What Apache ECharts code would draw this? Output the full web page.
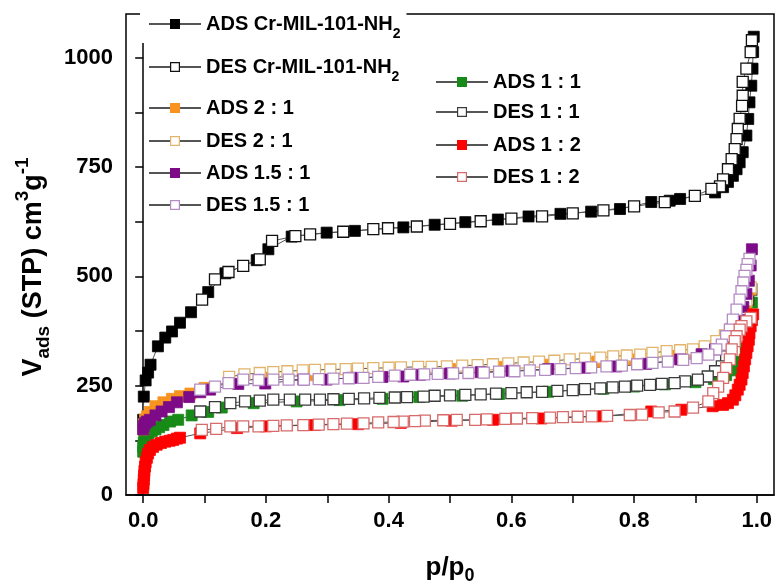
<!DOCTYPE html>
<html>
<head>
<meta charset="utf-8">
<script src="https://cdn.jsdelivr.net/npm/echarts@6/dist/echarts.min.js"></script>
<style>html,body{margin:0;padding:0;background:#fff}#c{width:777px;height:583px}</style>
</head>
<body>
<div id="c"></div>
<script>
// ---- data (p/p0, V ads) ----
const xTickLabels = [0, 0.2, 0.4, 0.6, 0.8, 1.0];
const xTicks = [0, 0.1, 0.2, 0.3, 0.4, 0.5, 0.6, 0.7, 0.8, 0.9, 1.0];
const yTickLabels = [0, 250, 500, 750, 1000];
const yTicks = [0, 125, 250, 375, 500, 625, 750, 875, 1000];

const crAdsX = [0.000, 0.001, 0.004, 0.008, 0.012, 0.024, 0.036, 0.047, 0.060, 0.078, 0.106, 0.134, 0.185, 0.204, 0.242, 0.299, 0.345, 0.424, 0.475, 0.525, 0.578, 0.628, 0.680, 0.730, 0.777, 0.828, 0.858, 0.875, 0.932, 0.945, 0.953, 0.961, 0.967, 0.972, 0.977, 0.983, 0.986, 0.988, 0.991, 0.993, 0.994, 0.995];
const crAdsY = [172, 225, 262, 280, 298, 340, 360, 374, 394, 418, 464, 507, 537, 562, 591, 600, 604, 612, 618, 624, 630, 637, 643, 648, 654, 670, 673, 677, 692, 704, 716, 730, 745, 761, 784, 822, 860, 898, 936, 975, 1013, 1048];
const crDesX = [0.992, 0.990, 0.983, 0.977, 0.977, 0.976, 0.972, 0.969, 0.967, 0.964, 0.959, 0.953, 0.945, 0.940, 0.926, 0.899, 0.850, 0.800, 0.750, 0.700, 0.650, 0.600, 0.550, 0.500, 0.446, 0.399, 0.375, 0.326, 0.272, 0.248, 0.210, 0.190, 0.163, 0.139, 0.117, 0.096];
const crDesY = [1040, 1013, 975, 945, 913, 890, 860, 837, 814, 791, 768, 745, 722, 706, 700, 684, 670, 660, 651, 644, 637, 632, 626, 620, 614, 610, 608, 602, 596, 592, 581, 539, 524, 510, 493, 447];

const r21AdsX = [0.000, 0.001, 0.003, 0.006, 0.011, 0.020, 0.033, 0.047, 0.060, 0.077, 0.10, 0.14, 0.20, 0.27, 0.34, 0.42, 0.50, 0.58, 0.66, 0.74, 0.80, 0.86, 0.90, 0.93, 0.95, 0.965, 0.975, 0.983, 0.99];
const r21AdsY = [150, 162, 172, 180, 190, 203, 212, 220, 226, 232, 245, 258, 268, 274, 278, 283, 288, 293, 298, 305, 310, 318, 325, 335, 355, 380, 410, 440, 470];
const r21DesX = [0.99, 0.983, 0.975, 0.967, 0.958, 0.948, 0.934, 0.915, 0.896, 0.875, 0.853, 0.83, 0.81, 0.788, 0.766, 0.745, 0.72, 0.695, 0.67, 0.645, 0.62, 0.595, 0.57, 0.545, 0.52, 0.495, 0.47, 0.448, 0.42, 0.40, 0.375, 0.35, 0.33, 0.305, 0.28, 0.26, 0.235, 0.212, 0.19, 0.165, 0.14];
const r21DesY = [475, 445, 420, 400, 380, 365, 352, 340, 333, 331, 329, 325, 321, 319, 317, 314, 312, 310, 307, 305, 303, 301, 299, 297, 296, 294, 293, 293, 292, 291, 290, 289, 288, 287, 286, 285, 283, 281, 279, 276, 270];

const r151AdsX = [0.000, 0.001, 0.003, 0.006, 0.011, 0.020, 0.030, 0.042, 0.055, 0.075, 0.093, 0.109, 0.155, 0.199, 0.261, 0.299, 0.34, 0.39, 0.424, 0.451, 0.50, 0.55, 0.60, 0.66, 0.72, 0.771, 0.82, 0.875, 0.91, 0.932, 0.95, 0.962, 0.972, 0.978, 0.983, 0.987, 0.990, 0.992];
const r151AdsY = [150, 158, 164, 168, 172, 182, 191, 201, 212, 224, 235, 241, 254, 255, 264, 264, 268, 270, 271, 275, 278, 281, 284, 288, 291, 294, 300, 310, 322, 333, 350, 375, 400, 430, 460, 490, 525, 562];
const r151DesX = [0.988, 0.985, 0.983, 0.980, 0.978, 0.975, 0.972, 0.967, 0.961, 0.956, 0.950, 0.943, 0.934, 0.921, 0.902, 0.88, 0.855, 0.83, 0.805, 0.78, 0.755, 0.73, 0.705, 0.68, 0.655, 0.63, 0.605, 0.58, 0.555, 0.53, 0.505, 0.48, 0.458, 0.435, 0.41, 0.383, 0.359, 0.335, 0.31, 0.286, 0.262, 0.237, 0.212, 0.188, 0.163, 0.139, 0.117, 0.093];
const r151DesY = [540, 528, 515, 501, 486, 466, 447, 424, 401, 378, 363, 344, 333, 321, 313, 309, 305, 302, 299, 296, 294, 292, 290, 288, 286, 285, 283, 282, 280, 279, 278, 277, 276, 275, 273, 270, 268, 267, 266, 265, 264, 264, 264, 263, 264, 256, 248, 241];

const r11AdsX = [0.000, 0.000, 0.001, 0.002, 0.004, 0.006, 0.009, 0.014, 0.020, 0.026, 0.033, 0.044, 0.057, 0.079, 0.106, 0.128, 0.18, 0.25, 0.32, 0.39, 0.45, 0.52, 0.58, 0.66, 0.75, 0.80, 0.85, 0.90, 0.93, 0.95, 0.965, 0.975, 0.982, 0.987, 0.990, 0.992];
const r11AdsY = [99, 110, 120, 128, 134, 138, 142, 146, 150, 155, 160, 168, 172, 182, 190, 200, 210, 214, 217, 220, 224, 227, 231, 236, 243, 248, 253, 258, 265, 274, 285, 305, 335, 370, 405, 440];
const r11DesX = [0.991, 0.986, 0.978, 0.972, 0.966, 0.961, 0.955, 0.950, 0.943, 0.932, 0.920, 0.904, 0.883, 0.866, 0.845, 0.826, 0.805, 0.785, 0.765, 0.745, 0.72, 0.70, 0.675, 0.65, 0.625, 0.60, 0.575, 0.55, 0.525, 0.50, 0.475, 0.457, 0.43, 0.41, 0.385, 0.36, 0.335, 0.31, 0.288, 0.264, 0.239, 0.212, 0.19, 0.166, 0.142, 0.117, 0.093];
const r11DesY = [470, 447, 424, 401, 378, 355, 335, 317, 294, 283, 271, 264, 260, 256, 254, 252, 250, 248, 246, 244, 242, 240, 238, 236, 235, 233, 232, 230, 229, 228, 227, 225, 224, 223, 222, 221, 220, 219, 218, 218, 218, 218, 216, 214, 210, 201, 191];

const r12AdsX = [0.000, 0.0005, 0.001, 0.0015, 0.002, 0.003, 0.004, 0.006, 0.008, 0.011, 0.016, 0.022, 0.029, 0.036, 0.043, 0.049, 0.055, 0.060, 0.093, 0.153, 0.20, 0.28, 0.35, 0.42, 0.503, 0.57, 0.649, 0.749, 0.828, 0.877, 0.928, 0.945, 0.953, 0.961, 0.965, 0.969, 0.972, 0.975, 0.977, 0.979, 0.981, 0.983, 0.985, 0.987, 0.988, 0.990, 0.992, 0.994];
const r12AdsY = [16, 25, 35, 45, 55, 65, 75, 85, 95, 103, 110, 115, 119, 122, 124, 126, 129, 131, 141, 153, 157, 160, 162, 165, 170, 172, 175, 180, 191, 195, 203, 206, 210, 218, 228, 241, 252, 264, 279, 294, 310, 325, 340, 355, 370, 386, 400, 413];
const r12DesX = [0.990, 0.983, 0.975, 0.972, 0.967, 0.964, 0.959, 0.956, 0.950, 0.945, 0.937, 0.929, 0.921, 0.896, 0.866, 0.840, 0.813, 0.793, 0.756, 0.731, 0.708, 0.684, 0.663, 0.634, 0.609, 0.590, 0.560, 0.541, 0.511, 0.489, 0.459, 0.443, 0.423, 0.408, 0.383, 0.359, 0.332, 0.310, 0.286, 0.261, 0.234, 0.212, 0.188, 0.163, 0.142, 0.119, 0.0955];
const r12DesY = [405, 397, 386, 378, 363, 352, 333, 310, 290, 268, 248, 233, 214, 200, 191, 189, 184, 183, 181, 180, 179, 178, 177, 176, 175, 174, 173, 172, 172, 171, 170, 169, 168, 167, 166, 164, 163, 162, 161, 160, 159, 158, 157, 157, 157, 151, 149];

const FONT = '"Liberation Sans", Arial, sans-serif';
const zip = (xs, ys) => xs.map((x, i) => [x, ys[i]]);

function ser(name, xs, ys, fill, stroke, z) {
  return {
    name: name, type: 'line', data: zip(xs, ys), z: z,
    symbol: 'rect', symbolSize: 11, showAllSymbol: true,
    lineStyle: { color: '#555', width: 1 },
    itemStyle: { color: fill, borderColor: stroke, borderWidth: fill === '#fff' ? 1.3 : 0.8 },
    emphasis: { disabled: true }, silent: true
  };
}

const series = [
  ser('ADS Cr-MIL-101-NH2', crAdsX, crAdsY, '#000000', '#000000', 2),
  ser('DES Cr-MIL-101-NH2', crDesX, crDesY, '#fff', '#111111', 2),
  ser('ADS 1 : 1', r11AdsX, r11AdsY, '#178a17', '#178a17', 2),
  ser('DES 1 : 1', r11DesX, r11DesY, '#fff', '#3a3a3a', 2),
  ser('ADS 2 : 1', r21AdsX, r21AdsY, '#f7931e', '#f7931e', 2),
  ser('DES 2 : 1', r21DesX, r21DesY, '#fff', '#e2b46c', 2),
  ser('ADS 1.5 : 1', r151AdsX, r151AdsY, '#7d0b87', '#7d0b87', 2),
  ser('DES 1.5 : 1', r151DesX, r151DesY, '#fff', '#b48cc4', 2),
  ser('ADS 1 : 2', r12AdsX, r12AdsY, '#ff0000', '#ff0000', 2),
  ser('DES 1 : 2', r12DesX, r12DesY, '#fff', '#d86a6a', 2)
];

function leg(name, left, top, extra) {
  const rich = /NH2$/.test(name);
  return Object.assign({
    data: [name], left: left, top: top, orient: 'vertical', padding: 0,
    itemWidth: 52, itemHeight: 11, selectedMode: false,
    formatter: n => n.replace(/NH2$/, 'NH{s|2}'),
    itemStyle: { borderWidth: 1.2 },
    textStyle: {
      fontFamily: FONT, fontSize: 20, fontWeight: 'bold', color: '#000',
      lineHeight: rich ? 34 : 20,
      rich: { s: { fontFamily: FONT, fontSize: 14, fontWeight: 'bold', color: '#000', lineHeight: 16, verticalAlign: 'bottom' } }
    }
  }, extra || {});
}

const legends = [
  leg('ADS Cr-MIL-101-NH2', 140, 1, { padding: [6, 6, 2, 8], backgroundColor: '#fff' }),
  leg('DES Cr-MIL-101-NH2', 148, 50),
  leg('ADS 2 : 1', 148, 98),
  leg('DES 2 : 1', 148, 131),
  leg('ADS 1.5 : 1', 148, 163),
  leg('DES 1.5 : 1', 148, 195),
  leg('ADS 1 : 1', 435, 72),
  leg('DES 1 : 1', 435, 102),
  leg('ADS 1 : 2', 435, 135),
  leg('DES 1 : 2', 435, 167)
];

const axisFont = { fontFamily: FONT, fontSize: 22, fontWeight: 'bold', color: '#000' };

const option = {
  animation: false,
  backgroundColor: '#fff',
  grid: { left: 126, right: 3, top: 14, bottom: 88, containLabel: false, outerBoundsMode: 'none',
    show: true, borderColor: '#000', borderWidth: 1.5, backgroundColor: 'transparent' },
  legend: legends,
  xAxis: {
    type: 'value', min: -0.028, max: 1.028,
    name: 'p/p{s|0}', nameLocation: 'middle', nameGap: 56,
    nameTextStyle: { fontFamily: FONT, fontSize: 26, fontWeight: 'bold', color: '#000', lineHeight: 34,
      rich: { s: { fontFamily: FONT, fontSize: 18, fontWeight: 'bold', color: '#000', lineHeight: 20, verticalAlign: 'bottom' } } },
    axisLine: { show: true, lineStyle: { color: '#000', width: 1.5 } },
    axisTick: { show: true, length: 8, inside: false, customValues: xTicks, lineStyle: { color: '#000', width: 1.5 } },
    axisLabel: Object.assign({ margin: 15, customValues: xTickLabels, formatter: v => v.toFixed(1) }, axisFont),
    splitLine: { show: false }
  },
  yAxis: {
    type: 'value', min: 0, max: 1100,
    name: 'V{s|ads} (STP) cm{p|3}g{p|-1}', nameLocation: 'middle', nameGap: 70,
    nameTextStyle: { fontFamily: FONT, fontSize: 27, fontWeight: 'bold', color: '#000', lineHeight: 40, padding: [0, 25, 0, 0],
      rich: {
        s: { fontFamily: FONT, fontSize: 19, fontWeight: 'bold', color: '#000', lineHeight: 26, verticalAlign: 'bottom' },
        p: { fontFamily: FONT, fontSize: 19, fontWeight: 'bold', color: '#000', lineHeight: 22, verticalAlign: 'top' }
      } },
    axisLine: { show: true, lineStyle: { color: '#000', width: 1.5 } },
    axisTick: { show: true, length: 8, inside: false, customValues: yTicks, lineStyle: { color: '#000', width: 1.5 } },
    axisLabel: Object.assign({ margin: 13, customValues: yTickLabels, formatter: v => String(v) }, axisFont),
    splitLine: { show: false }
  },
  series: series
};

const chart = echarts.init(document.getElementById('c'), null, { renderer: 'canvas' });
chart.setOption(option);
</script>
</body>
</html>
